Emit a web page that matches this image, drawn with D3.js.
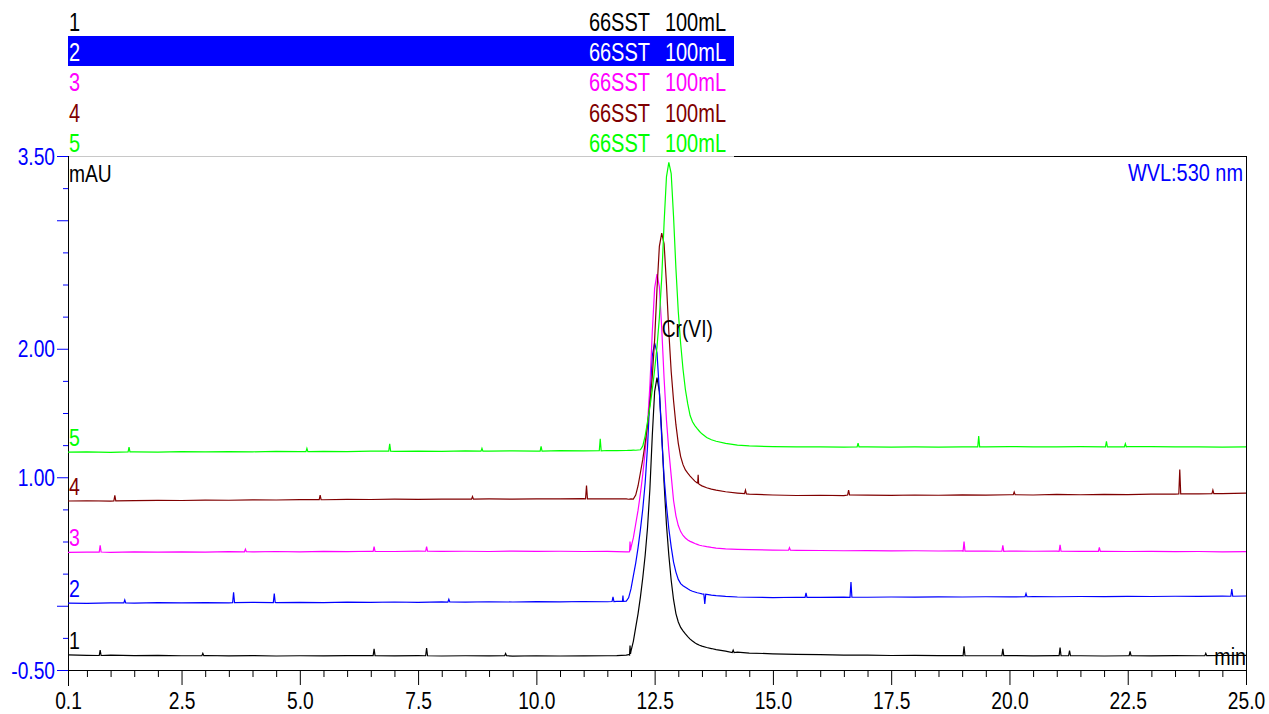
<!DOCTYPE html>
<html>
<head>
<meta charset="utf-8">
<script src="https://cdn.jsdelivr.net/npm/d3@7"></script>
<style>
body { margin: 0; background: #fff; }
svg text { font-family: "Liberation Sans", Arial, sans-serif; }
</style>
</head>
<body>
<svg id="chart" width="1269" height="714"></svg>
<script>
// retention time grid (min), shared by all traces
var times = [0.1, 0.5, 1.0, 1.5, 2.0, 2.5, 3.0, 3.5, 4.0, 4.5, 5.0, 5.5, 6.0, 6.5, 7.0, 7.5, 8.0, 8.5, 9.0, 9.5, 10.0, 10.5, 11.0, 11.5, 11.7,
  11.9, 11.95, 12.0, 12.05, 12.1, 12.15, 12.2, 12.25, 12.3, 12.35, 12.4, 12.45, 12.5, 12.55, 12.6, 12.65, 12.7, 12.75, 12.8, 12.85, 12.9, 12.95, 13.0, 13.05, 13.1, 13.15, 13.2, 13.25, 13.3, 13.35, 13.4, 13.45, 13.5,
  13.6, 13.7, 13.8, 14.0, 14.25, 14.5,
  15.0, 15.5, 16.0, 16.5, 17.0, 17.5, 18.0, 18.5, 19.0, 19.5, 20.0, 20.5, 21.0, 21.5, 22.0, 22.5, 23.0, 23.5, 24.0, 24.5, 25.0];

// absorbance (mAU) at each time, one array per injection
var trace1 = [-0.383, -0.386, -0.384, -0.388, -0.386, -0.389, -0.387, -0.390, -0.388, -0.391, -0.389, -0.390, -0.388, -0.387, -0.390, -0.388, -0.391, -0.389, -0.390, -0.392, -0.389, -0.391, -0.390, -0.389, -0.388,
  -0.384, -0.380, -0.353, -0.277, -0.169, -0.061, 0.069, 0.220, 0.393, 0.609, 0.911, 1.321, 1.667, 1.775, 1.667, 1.343, 0.954, 0.630, 0.393, 0.198, 0.047, -0.061, -0.126, -0.169, -0.195, -0.219, -0.240, -0.260, -0.275, -0.288, -0.299, -0.307, -0.314,
  -0.325, -0.333, -0.342, -0.353, -0.361, -0.368,
  -0.374, -0.378, -0.381, -0.384, -0.385, -0.387, -0.386, -0.388, -0.387, -0.389, -0.388, -0.390, -0.388, -0.389, -0.391, -0.389, -0.390, -0.388, -0.389, -0.387, -0.386];
var trace2 = [0.020, 0.018, 0.022, 0.021, 0.024, 0.022, 0.025, 0.023, 0.026, 0.024, 0.027, 0.025, 0.028, 0.026, 0.029, 0.027, 0.030, 0.028, 0.031, 0.029, 0.032, 0.030, 0.033, 0.031, 0.034,
  0.036, 0.062, 0.131, 0.232, 0.332, 0.453, 0.594, 0.755, 0.957, 1.239, 1.622, 1.944, 2.045, 1.969, 1.667, 1.304, 1.002, 0.780, 0.599, 0.458, 0.340, 0.262, 0.205, 0.172, 0.156, 0.144, 0.132, 0.121, 0.113, 0.107, 0.101, 0.097, 0.093,
  0.089, 0.083, 0.079, 0.073, 0.068, 0.066,
  0.064, 0.066, 0.065, 0.067, 0.066, 0.068, 0.067, 0.069, 0.068, 0.070, 0.069, 0.071, 0.070, 0.072, 0.071, 0.073, 0.072, 0.074, 0.073, 0.075, 0.076];
var trace3 = [0.416, 0.418, 0.415, 0.419, 0.417, 0.420, 0.418, 0.421, 0.419, 0.422, 0.420, 0.423, 0.421, 0.424, 0.422, 0.425, 0.423, 0.424, 0.422, 0.425, 0.423, 0.424, 0.422, 0.423, 0.421,
  0.420, 0.419, 0.452, 0.528, 0.636, 0.744, 0.874, 1.025, 1.198, 1.414, 1.716, 2.126, 2.472, 2.580, 2.482, 2.158, 1.769, 1.445, 1.208, 1.013, 0.819, 0.700, 0.624, 0.577, 0.547, 0.527, 0.512, 0.501, 0.493, 0.484, 0.478, 0.471, 0.467,
  0.460, 0.454, 0.449, 0.443, 0.439, 0.436,
  0.433, 0.431, 0.430, 0.428, 0.429, 0.427, 0.428, 0.426, 0.427, 0.425, 0.426, 0.424, 0.425, 0.423, 0.424, 0.422, 0.423, 0.421, 0.422, 0.420, 0.421];
var trace4 = [0.815, 0.817, 0.814, 0.818, 0.820, 0.819, 0.822, 0.821, 0.824, 0.823, 0.826, 0.825, 0.828, 0.827, 0.829, 0.828, 0.830, 0.829, 0.831, 0.830, 0.832, 0.831, 0.833, 0.832, 0.831,
  0.831, 0.829, 0.832, 0.830, 0.861, 0.934, 1.037, 1.141, 1.265, 1.410, 1.575, 1.782, 2.072, 2.465, 2.797, 2.900, 2.817, 2.506, 2.133, 1.823, 1.595, 1.409, 1.264, 1.161, 1.098, 1.057, 1.032, 1.009, 0.989, 0.970, 0.956, 0.943, 0.933,
  0.918, 0.908, 0.900, 0.887, 0.877, 0.869,
  0.862, 0.858, 0.860, 0.857, 0.861, 0.859, 0.862, 0.860, 0.863, 0.861, 0.864, 0.862, 0.866, 0.864, 0.867, 0.865, 0.869, 0.868, 0.871, 0.873, 0.876];
var trace5 = [1.195, 1.197, 1.194, 1.198, 1.196, 1.199, 1.197, 1.200, 1.198, 1.201, 1.199, 1.202, 1.200, 1.203, 1.201, 1.204, 1.202, 1.205, 1.203, 1.206, 1.204, 1.207, 1.205, 1.208, 1.207,
  1.208, 1.210, 1.209, 1.211, 1.210, 1.212, 1.214, 1.244, 1.322, 1.434, 1.546, 1.680, 1.837, 2.016, 2.240, 2.554, 2.980, 3.338, 3.450, 3.363, 3.027, 2.624, 2.288, 2.041, 1.840, 1.683, 1.571, 1.480, 1.432, 1.402, 1.378, 1.356, 1.338,
  1.310, 1.292, 1.280, 1.263, 1.250, 1.244,
  1.238, 1.236, 1.237, 1.235, 1.236, 1.234, 1.236, 1.235, 1.237, 1.236, 1.238, 1.237, 1.236, 1.238, 1.237, 1.239, 1.238, 1.236, 1.237, 1.235, 1.236];

// noise spikes [time, mAU]
var spikes1 = [[0.76, -0.387], [0.78, -0.345], [0.80, -0.387], [2.93, -0.388], [2.95, -0.370], [2.97, -0.388],
  [6.55, -0.388], [6.57, -0.335], [6.59, -0.388], [7.66, -0.389], [7.68, -0.330], [7.70, -0.389],
  [9.33, -0.389], [9.35, -0.372], [9.37, -0.389], [11.97, -0.384], [11.98, -0.310], [11.99, -0.375],
  [14.14, -0.364], [14.16, -0.345], [14.18, -0.364], [19.02, -0.389], [19.04, -0.315], [19.06, -0.389],
  [19.84, -0.388], [19.86, -0.335], [19.88, -0.388], [21.05, -0.388], [21.07, -0.325], [21.09, -0.388],
  [21.25, -0.389], [21.27, -0.350], [21.29, -0.389], [22.53, -0.389], [22.55, -0.355], [22.57, -0.389],
  [24.13, -0.388], [24.15, -0.370], [24.17, -0.388]];
var spikes2 = [[1.28, 0.022], [1.30, 0.045], [1.32, 0.022], [3.58, 0.024], [3.60, 0.105], [3.62, 0.024],
  [4.44, 0.025], [4.46, 0.095], [4.48, 0.025], [8.13, 0.029], [8.15, 0.050], [8.17, 0.029],
  [11.60, 0.033], [11.62, 0.070], [11.64, 0.033], [11.82, 0.035], [11.83, 0.080], [11.84, 0.035],
  [13.54, 0.091], [13.56, 0.015], [13.58, 0.090], [15.68, 0.065], [15.70, 0.100], [15.72, 0.065],
  [16.63, 0.066], [16.65, 0.185], [16.67, 0.066], [20.33, 0.070], [20.35, 0.095], [20.37, 0.070],
  [24.68, 0.074], [24.70, 0.130], [24.72, 0.074]];
var spikes3 = [[0.76, 0.418], [0.78, 0.470], [0.80, 0.418], [3.83, 0.420], [3.85, 0.440], [3.87, 0.420],
  [6.55, 0.423], [6.57, 0.460], [6.59, 0.423], [7.66, 0.424], [7.68, 0.460], [7.70, 0.424],
  [11.97, 0.420], [11.98, 0.500], [11.99, 0.430], [15.33, 0.432], [15.35, 0.452], [15.37, 0.432],
  [19.02, 0.425], [19.04, 0.500], [19.06, 0.425], [19.84, 0.424], [19.86, 0.470], [19.88, 0.424],
  [21.05, 0.424], [21.07, 0.475], [21.09, 0.424], [21.88, 0.423], [21.90, 0.455], [21.92, 0.423]];
var spikes4 = [[1.07, 0.816], [1.09, 0.860], [1.11, 0.816], [5.41, 0.826], [5.43, 0.860], [5.45, 0.826],
  [8.63, 0.829], [8.65, 0.850], [8.67, 0.829], [11.04, 0.832], [11.06, 0.935], [11.08, 0.832],
  [13.41, 0.955], [13.42, 1.020], [13.43, 0.950], [14.40, 0.872], [14.42, 0.900], [14.44, 0.871],
  [16.58, 0.862], [16.60, 0.900], [16.62, 0.862], [20.08, 0.864], [20.10, 0.885], [20.12, 0.864],
  [23.58, 0.870], [23.60, 1.060], [23.62, 0.870], [24.28, 0.872], [24.30, 0.900], [24.32, 0.872]];
var spikes5 = [[1.37, 1.197], [1.39, 1.235], [1.41, 1.197], [5.13, 1.199], [5.15, 1.225], [5.17, 1.199],
  [6.88, 1.203], [6.90, 1.260], [6.92, 1.203], [8.83, 1.203], [8.85, 1.225], [8.87, 1.203],
  [10.08, 1.203], [10.10, 1.240], [10.12, 1.203], [11.33, 1.206], [11.35, 1.300], [11.37, 1.206],
  [16.78, 1.236], [16.80, 1.265], [16.82, 1.236], [19.33, 1.236], [19.35, 1.320], [19.37, 1.236],
  [22.03, 1.237], [22.05, 1.280], [22.07, 1.237], [22.43, 1.237], [22.45, 1.260], [22.47, 1.237]];

var seriesNames = ["1", "2", "3", "4", "5"];
var sampleNames = ["66SST", "66SST", "66SST", "66SST", "66SST"];
var volumes = ["100mL", "100mL", "100mL", "100mL", "100mL"];
var seriesColors = ["#000000", "#0000ff", "#ff00ff", "#800000", "#00ff00"];

var xMajorTicks = [0.1, 2.5, 5.0, 7.5, 10.0, 12.5, 15.0, 17.5, 20.0, 22.5, 25.0];
var xMinorTicks = [0.5, 1.0, 1.5, 2.0, 3.0, 3.5, 4.0, 4.5, 5.5, 6.0, 6.5, 7.0, 8.0, 8.5, 9.0, 9.5,
  10.5, 11.0, 11.5, 12.0, 13.0, 13.5, 14.0, 14.5, 15.5, 16.0, 16.5, 17.0, 18.0, 18.5, 19.0, 19.5,
  20.5, 21.0, 21.5, 22.0, 23.0, 23.5, 24.0, 24.5];
var yLabelTicks = [3.5, 2.0, 1.0, -0.5];
var yLongTicks = [3.0, 0.0];
var yMinorTicks = [3.25, 2.75, 2.5, 2.25, 1.75, 1.5, 1.25, 0.75, 0.5, 0.25, -0.25];

var svg = d3.select("#chart");
var x = d3.scaleLinear().domain([0.1, 25]).range([68, 1246]);
var y = d3.scaleLinear().domain([-0.5, 3.5]).range([670, 156]);

// narrow-looking text: Arial squeezed horizontally
function label(g, px, py, str, size, color, anchor, sx) {
  return g.append("text")
    .attr("transform", "translate(" + px + "," + py + ") scale(" + (sx || 0.8) + ",1)")
    .attr("text-anchor", anchor || "start")
    .attr("font-size", size)
    .attr("fill", color)
    .text(str);
}

// header list of injections
var legend = svg.append("g");
legend.append("rect").attr("x", 68).attr("y", 36).attr("width", 666).attr("height", 30).attr("fill", "#0000ff");
seriesNames.forEach(function(n, i) {
  var by = 30.5 + i * 30.4;
  var c = i == 1 ? "#ffffff" : seriesColors[i];
  label(legend, 69, by, n, 25, c);
  label(legend, 650, by, sampleNames[i], 25, c, "end");
  label(legend, 726, by, volumes[i], 25, c, "end");
});

// frame
svg.append("line").attr("x1", 68).attr("x2", 734).attr("y1", 156.5).attr("y2", 156.5).attr("stroke", "#c8c8c8");
svg.append("line").attr("x1", 734).attr("x2", 1247).attr("y1", 156.5).attr("y2", 156.5).attr("stroke", "#000");
svg.append("line").attr("x1", 1246.5).attr("x2", 1246.5).attr("y1", 156).attr("y2", 685).attr("stroke", "#000");

// x axis
var xMinor = svg.append("g").attr("transform", "translate(0,670)")
  .call(d3.axisBottom(x).tickValues(xMinorTicks).tickSize(7).tickFormat(""));
xMinor.select(".domain").remove();
var xMajor = svg.append("g").attr("transform", "translate(0,670)")
  .call(d3.axisBottom(x).tickValues(xMajorTicks).tickSize(15).tickFormat(function(d) { return d.toFixed(1); }));
xMajor.select(".domain").remove();
xMajor.selectAll("text")
  .attr("y", 39).attr("dy", 0)
  .attr("font-size", 24).attr("fill", "#000")
  .attr("transform", "scale(0.8,1)");
svg.append("line").attr("x1", 68).attr("x2", 1247).attr("y1", 670.5).attr("y2", 670.5).attr("stroke", "#000");

// y axis (blue ticks)
var yMinor = svg.append("g").attr("transform", "translate(68,0)").attr("color", "#0000ff")
  .call(d3.axisLeft(y).tickValues(yMinorTicks).tickSize(5).tickFormat(""));
yMinor.select(".domain").remove();
var yLong = svg.append("g").attr("transform", "translate(68,0)").attr("color", "#0000ff")
  .call(d3.axisLeft(y).tickValues(yLongTicks).tickSize(11).tickFormat(""));
yLong.select(".domain").remove();
var yMajor = svg.append("g").attr("transform", "translate(68,0)").attr("color", "#0000ff")
  .call(d3.axisLeft(y).tickValues(yLabelTicks).tickSize(11).tickFormat(function(d) { return d.toFixed(2); }));
yMajor.select(".domain").remove();
yMajor.selectAll("text")
  .attr("x", 0).attr("dy", "0.34em")
  .attr("font-size", 24)
  .attr("transform", "translate(-13,0) scale(0.8,1)");
svg.append("line").attr("x1", 68.5).attr("x2", 68.5).attr("y1", 156).attr("y2", 686).attr("stroke", "#000");

// traces
var traces = [trace1, trace2, trace3, trace4, trace5];
var spikes = [spikes1, spikes2, spikes3, spikes4, spikes5];
var line = d3.line().x(function(d) { return x(d[0]); }).y(function(d) { return y(d[1]); });
var plot = svg.append("g");
traces.forEach(function(tr, i) {
  var pts = times.map(function(t, j) { return [t, tr[j]]; })
    .concat(spikes[i])
    .sort(function(a, b) { return a[0] - b[0]; });
  plot.append("path").datum(pts)
    .attr("d", line)
    .attr("fill", "none")
    .attr("stroke", seriesColors[i])
    .attr("stroke-width", 1.2);
  label(svg, 69, y(tr[0]) - 6, seriesNames[i], 23, seriesColors[i], "start", 0.85);
});

// annotations
label(svg, 69, 182, "mAU", 24, "#000", "start", 0.8);
label(svg, 1243, 181, "WVL:530 nm", 24, "#0000ff", "end", 0.83);
label(svg, 1246, 665, "min", 24, "#000", "end", 0.82);
label(svg, x(12.65), y(2.09), "Cr(VI)", 24, "#000", "start", 0.8);
</script>
</body>
</html>
